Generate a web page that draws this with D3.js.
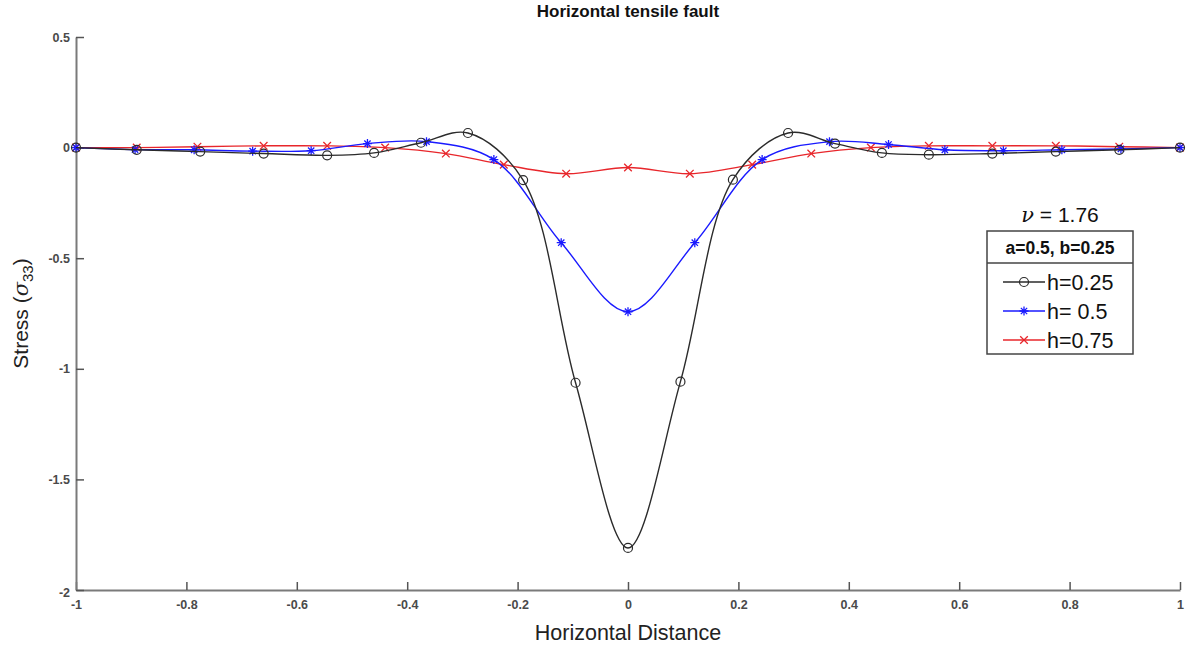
<!DOCTYPE html>
<html>
<head>
<meta charset="utf-8">
<script src="https://cdn.jsdelivr.net/npm/d3@7"></script>
<style>
  body { margin: 0; background: #fff; }
  text { font-family: "Liberation Sans", Arial, sans-serif; }
</style>
</head>
<body>
<div id="chart"></div>
<script>
// stress curves
const xH25 = [-1, -0.89, -0.775, -0.66, -0.545, -0.46, -0.375, -0.29, -0.19, -0.095, 0,
              0.095, 0.19, 0.29, 0.375, 0.46, 0.545, 0.66, 0.775, 0.89, 1]
const yH25 = [0, -0.01, -0.018, -0.027, -0.035, -0.024, 0.022, 0.066, -0.147, -1.063, -1.81,
              -1.058, -0.145, 0.066, 0.018, -0.024, -0.032, -0.027, -0.018, -0.01, 0]

const xH50 = [-1, -0.893, -0.786, -0.68, -0.574, -0.472, -0.365, -0.243, -0.121, 0,
              0.121, 0.243, 0.365, 0.472, 0.574, 0.68, 0.786, 0.893, 1]
const yH50 = [0, -0.009, -0.01, -0.016, -0.014, 0.018, 0.027, -0.054, -0.43, -0.742,
              -0.43, -0.054, 0.027, 0.014, -0.01, -0.014, -0.01, -0.006, 0]

const xH75 = [-1, -0.89, -0.78, -0.66, -0.545, -0.44, -0.33, -0.225, -0.112, 0,
              0.112, 0.225, 0.332, 0.44, 0.545, 0.66, 0.775, 0.89, 1]
const yH75 = [0, 0, 0.004, 0.008, 0.008, 0, -0.027, -0.077, -0.118, -0.09,
              -0.118, -0.077, -0.027, 0, 0.008, 0.008, 0.008, 0.004, 0]

const seriesNames = ["h=0.25", "h= 0.5", "h=0.75"]
const seriesColors = ["#2b2b2b", "#1a1aff", "#e8262b"]
const seriesMarkers = ["circle", "star", "cross"]

const xTicks = [-1, -0.8, -0.6, -0.4, -0.2, 0, 0.2, 0.4, 0.6, 0.8, 1]
const yTicks = [0.5, 0, -0.5, -1, -1.5, -2]

const width = 1190
const height = 646
const margin = {top: 37, right: 10, bottom: 56, left: 76}

const svg = d3.select("#chart").append("svg")
  .attr("width", width)
  .attr("height", height)

const x = d3.scaleLinear().domain([-1, 1]).range([margin.left, width - margin.right])
const y = d3.scaleLinear().domain([-2, 0.5]).range([height - margin.bottom, margin.top])

// axes, MATLAB style: ticks point inward, box off
const xAxis = svg.append("g")
  .attr("transform", "translate(0," + y(-2) + ")")
  .call(d3.axisBottom(x).tickValues(xTicks).tickSizeInner(-8).tickSizeOuter(0))
xAxis.select(".domain").attr("stroke", "#7a7a7a").attr("stroke-width", 2)
xAxis.selectAll(".tick line").attr("stroke", "#555").attr("stroke-width", 1.5)
xAxis.selectAll(".tick text")
  .attr("y", 10).attr("dy", "0.71em")
  .attr("font-size", 12.5).attr("font-weight", "bold").attr("fill", "#4a4a4a")
  .text(d => String(d))

const yAxis = svg.append("g")
  .attr("transform", "translate(" + x(-1) + ",0)")
  .call(d3.axisLeft(y).tickValues(yTicks).tickSizeInner(-8).tickSizeOuter(0))
yAxis.select(".domain").attr("stroke", "#7a7a7a").attr("stroke-width", 2)
yAxis.selectAll(".tick line").attr("stroke", "#555").attr("stroke-width", 1.5)
yAxis.selectAll(".tick text")
  .attr("x", -6)
  .attr("font-size", 12.5).attr("font-weight", "bold").attr("fill", "#4a4a4a")
  .text(d => String(d))
yAxis.selectAll(".tick").filter(d => d === -2).select("text").attr("dy", "0.55em")

// curves
const allX = [xH25, xH50, xH75]
const allY = [yH25, yH50, yH75]

const line = d3.line()
  .x(d => x(d[0]))
  .y(d => y(d[1]))
  .curve(d3.curveCatmullRom.alpha(0.5))

function drawMarker(g, kind, color) {
  if (kind === "circle") {
    g.append("circle").attr("r", 4.5).attr("fill", "none")
      .attr("stroke", color).attr("stroke-width", 1.2)
  } else if (kind === "star") {
    const s = 4.5
    g.append("path")
      .attr("d", "M" + (-s) + ",0L" + s + ",0M0," + (-s) + "L0," + s +
        "M" + (-s * 0.7) + "," + (-s * 0.7) + "L" + (s * 0.7) + "," + (s * 0.7) +
        "M" + (-s * 0.7) + "," + (s * 0.7) + "L" + (s * 0.7) + "," + (-s * 0.7))
      .attr("stroke", color).attr("stroke-width", 1.3)
  } else {
    const s = 3.8
    g.append("path")
      .attr("d", "M" + (-s) + "," + (-s) + "L" + s + "," + s + "M" + (-s) + "," + s + "L" + s + "," + (-s))
      .attr("stroke", color).attr("stroke-width", 1.3)
  }
}

for (let i = 2; i >= 0; i--) {
  const pts = allX[i].map((v, k) => [v, allY[i][k]])
  svg.append("path")
    .datum(pts)
    .attr("d", line)
    .attr("fill", "none")
    .attr("stroke", seriesColors[i])
    .attr("stroke-width", 1.4)
  pts.forEach(function(p) {
    const g = svg.append("g").attr("transform", "translate(" + x(p[0]) + "," + y(p[1]) + ")")
    drawMarker(g, seriesMarkers[i], seriesColors[i])
  })
}

// title and axis labels
svg.append("text")
  .attr("x", x(0)).attr("y", 17)
  .attr("text-anchor", "middle")
  .attr("font-size", 17).attr("font-weight", "bold").attr("fill", "#111")
  .text("Horizontal tensile fault")

svg.append("text")
  .attr("x", x(0)).attr("y", 640)
  .attr("text-anchor", "middle")
  .attr("font-size", 21.5).attr("fill", "#222")
  .text("Horizontal Distance")

const yl = svg.append("text")
  .attr("transform", "translate(28," + ((y(0.5) + y(-2)) / 2) + ") rotate(-90)")
  .attr("text-anchor", "middle")
  .attr("font-size", 21).attr("fill", "#222")
yl.append("tspan").text("Stress (")
yl.append("tspan").attr("font-style", "italic").attr("font-family", "DejaVu Serif, serif").text("σ")
yl.append("tspan").attr("font-size", 15).attr("dy", 5).text("33")
yl.append("tspan").attr("dy", -5).text(")")

// legend
const lx = 987, ly = 231, lw = 146
const nu = svg.append("text")
  .attr("x", lx + lw / 2).attr("y", 222)
  .attr("text-anchor", "middle")
  .attr("font-size", 21).attr("fill", "#111")
nu.append("tspan").attr("font-style", "italic").attr("font-family", "DejaVu Serif, serif").text("ν")
nu.append("tspan").text(" = 1.76")

svg.append("rect")
  .attr("x", lx).attr("y", ly).attr("width", lw).attr("height", 123)
  .attr("fill", "#fff").attr("stroke", "#444").attr("stroke-width", 1.5)
svg.append("line")
  .attr("x1", lx).attr("x2", lx + lw).attr("y1", 263).attr("y2", 263)
  .attr("stroke", "#444").attr("stroke-width", 1.5)
svg.append("text")
  .attr("x", lx + lw / 2).attr("y", 254)
  .attr("text-anchor", "middle")
  .attr("font-size", 17.5).attr("font-weight", "bold").attr("fill", "#111")
  .text("a=0.5, b=0.25")

seriesNames.forEach(function(name, i) {
  const cy = 282 + i * 29
  svg.append("line")
    .attr("x1", 1003).attr("x2", 1045).attr("y1", cy).attr("y2", cy)
    .attr("stroke", seriesColors[i]).attr("stroke-width", 1.3)
  const g = svg.append("g").attr("transform", "translate(1024," + cy + ")")
  drawMarker(g, seriesMarkers[i], seriesColors[i])
  svg.append("text")
    .attr("x", 1047).attr("y", cy + 8)
    .attr("font-size", 21.5).attr("fill", "#111")
    .text(name)
})
</script>
</body>
</html>
